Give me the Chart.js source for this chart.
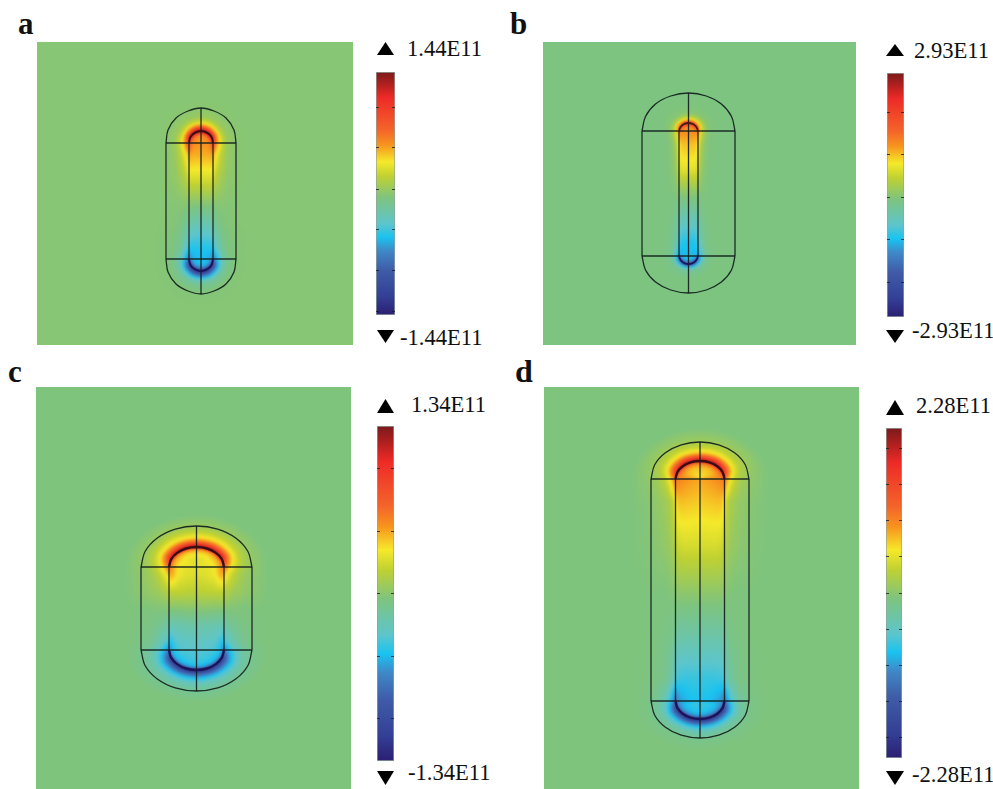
<!DOCTYPE html>
<html>
<head>
<meta charset="utf-8">
<title>Field maps</title>
<script src="https://cdn.jsdelivr.net/npm/chart.js@4"></script>
<style>
  html, body { margin: 0; padding: 0; background: #fff; }
  #page { position: relative; width: 993px; height: 789px; overflow: hidden; }
  canvas { position: absolute; }
  .txt { position: absolute; font-family: "Liberation Serif", serif; line-height: 1; white-space: nowrap; color: #111; }
  .tri { position: absolute; background: #000; }
</style>
</head>
<body>
<div id="page"></div>
<script>
// colour scale, percent of full range
const scaleStops = [-100, -85, -63, -47, -36, -25, -3, 14, 26, 40, 52, 79, 90, 100];
const scaleColors = ['#2b1f72', '#333f95', '#3f5ca8', '#3f89c8', '#19c3f0', '#5cc5cc', '#7fc47d',
  '#bfd132', '#f5e92a', '#f7941e', '#f4652a', '#ed2a27', '#b0201f', '#7b1a1a'];

// colour bar ranges and tick values (E11)
const rangeA = 1.44, rangeB = 2.93, rangeC = 1.34, rangeD = 2.28;
const barTicksA = [1.02, 0.54, 0.05, -0.43, -0.91, -1.4];
const barTicksB = [1.99, 0.97, -0.06, -1.07, -2.09];
const barTicksC = [1, 0.5, 0, -0.5, -1];
const barTicksD = [2, 1.5, 1, 0.5, 0, -0.5, -1, -1.5, -2];

// rows of every field table: 0-1 top cap, 1-2 along the rod, 2-3 bottom cap
const stations = [0, 0.35, 0.7, 1, 1.1, 1.3, 1.5, 1.7, 1.9, 2, 2.3, 2.65, 3];

// columns: distance from the rod surface, negative is inside
const depthA = [-12, -8, -4, -1.5, 0, 2, 5, 9, 14, 22, 34];
const fieldA = [
  [38, 40, 46, 80, 100, 78, 46, 18, 4, 0, -1],
  [38, 40, 46, 78, 98, 76, 45, 18, 4, 0, -1],
  [40, 40, 46, 72, 92, 72, 42, 16, 4, 0, -1],
  [41, 41, 42, 56, 72, 52, 34, 17, 5, 0, -1],
  [36, 36, 36, 38, 38, 30, 21, 12, 4, 0, -1],
  [20, 20, 20, 20, 20, 14, 10, 6, 2, 0, -1],
  [1, 1, 1, 1, 1, 0, 0, 0, -1, -1, -1],
  [-18, -18, -17, -15, -14, -10, -7, -4, -2, -1, -1],
  [-34, -34, -34, -34, -33, -26, -18, -10, -5, -2, -1],
  [-38, -38, -40, -46, -56, -46, -32, -18, -8, -2, -1],
  [-36, -36, -40, -60, -86, -70, -48, -22, -9, -2, -1],
  [-35, -36, -42, -68, -92, -76, -50, -22, -9, -2, -1],
  [-35, -36, -45, -70, -96, -78, -50, -20, -8, -2, -1]
];

const depthB = [-9.5, -6, -3, -1, 0, 2, 4, 7, 11, 18, 30];
const fieldB = [
  [38, 40, 46, 70, 86, 50, 28, 9, -1, -3, -4],
  [38, 40, 46, 68, 84, 48, 28, 9, -1, -3, -4],
  [40, 40, 44, 60, 74, 42, 24, 8, -1, -3, -4],
  [42, 42, 42, 44, 46, 28, 15, 4, -2, -4, -4],
  [33, 33, 32, 30, 28, 14, 6, 0, -3, -4, -4],
  [22, 22, 22, 20, 18, 8, 2, -1, -3, -4, -4],
  [0, 0, 0, -1, -1, -2, -3, -3, -4, -4, -4],
  [-18, -18, -18, -16, -14, -10, -8, -6, -4, -4, -4],
  [-35, -35, -34, -32, -30, -20, -13, -8, -5, -4, -4],
  [-38, -38, -38, -40, -42, -34, -23, -11, -6, -4, -4],
  [-36, -36, -40, -58, -72, -46, -28, -13, -6, -4, -4],
  [-36, -36, -42, -64, -84, -50, -28, -12, -6, -4, -4],
  [-36, -36, -42, -66, -86, -50, -28, -12, -6, -4, -4]
];

const depthC = [-27, -18, -10, -4, -1.5, 0, 2, 6, 11, 18, 28, 44];
const fieldC = [
  [20, 22, 26, 38, 70, 100, 86, 58, 33, 18, 4, -3],
  [21, 22, 26, 38, 70, 98, 84, 56, 32, 17, 4, -3],
  [23, 24, 28, 38, 65, 92, 78, 50, 28, 14, 3, -3],
  [22, 22, 25, 38, 44, 52, 42, 28, 18, 9, 2, -3],
  [20, 21, 24, 34, 36, 32, 26, 19, 12, 6, 1, -3],
  [13, 13, 14, 14, 14, 13, 10, 8, 5, 3, 0, -3],
  [0, 0, -1, -1, -1, -1, -2, -2, -2, -3, -3, -3],
  [-15, -15, -16, -17, -17, -15, -13, -10, -8, -5, -4, -3],
  [-22, -23, -24, -30, -36, -33, -27, -21, -15, -9, -5, -3],
  [-24, -25, -28, -36, -46, -52, -44, -33, -23, -13, -7, -3],
  [-28, -28, -32, -40, -60, -90, -76, -52, -34, -18, -9, -3],
  [-28, -28, -32, -42, -70, -98, -84, -58, -35, -19, -9, -3],
  [-28, -28, -32, -42, -72, -100, -85, -58, -37, -21, -10, -3]
];

const depthD = [-24, -16, -9, -4, -1.5, 0, 2, 6, 11, 18, 28, 44];
const fieldD = [
  [27, 29, 33, 44, 70, 100, 84, 58, 32, 16, 4, -3],
  [27, 29, 33, 44, 70, 100, 84, 58, 32, 16, 4, -3],
  [31, 32, 36, 46, 66, 90, 74, 48, 26, 12, 3, -3],
  [37, 39, 41, 44, 46, 52, 40, 25, 14, 6, 1, -3],
  [31, 32, 33, 33, 31, 26, 16, 9, 5, 2, -1, -3],
  [19, 19, 19, 18, 16, 12, 8, 4, 2, 0, -2, -3],
  [2, 2, 2, 2, 1, 0, -1, -2, -3, -3, -3, -3],
  [-14, -14, -14, -14, -13, -11, -8, -6, -5, -4, -3, -3],
  [-31, -31, -31, -30, -30, -26, -19, -12, -8, -5, -4, -3],
  [-36, -36, -40, -44, -50, -58, -46, -30, -18, -10, -5, -3],
  [-32, -32, -36, -44, -60, -90, -76, -50, -29, -14, -6, -3],
  [-32, -32, -36, -46, -70, -98, -84, -55, -31, -15, -6, -3],
  [-32, -32, -36, -46, -72, -100, -86, -57, -33, -17, -7, -3]
];

// outlines: top cap, then bottom cap
const outerA = [[166,143],[168,130],[176,118],[188,111],[201,108],[214,111],[226,118],[234,130],[236,143],
  [236,259],[234,272],[226,284],[214,291],[201,294],[188,291],[176,284],[168,272],[166,259]];
const innerA = [[189,143],[190,138],[192.5,134.5],[196.5,132],[201,131],[205.5,132],[209.5,134.5],[212,138],[213,143],
  [213,259],[212,264],[209.5,267.5],[205.5,270],[201,271],[196.5,270],[192.5,267.5],[190,264],[189,259]];
const outerB = [[642,131],[645.5,116.5],[655.5,104],[670.7,96],[688.5,93],[706.3,96],[721.4,104],[731.5,116.5],[735,131],
  [735,256],[731.5,270],[721.4,282],[706.3,290],[688.5,293],[670.7,290],[655.5,282],[645.5,270],[642,256]];
const innerB = [[679,132],[679.7,128.6],[681.8,125.6],[684.9,123.7],[688.5,123],[692.1,123.7],[695.2,125.6],[697.3,128.6],[698,132],
  [698,255],[697.3,258.4],[695.2,261.4],[692.1,263.3],[688.5,264],[684.9,263.3],[681.8,261.4],[679.7,258.4],[679,255]];
const outerC = [[141,567],[145.2,551.3],[157.3,538],[175.3,529.1],[196.5,526],[217.7,529.1],[235.7,538],[247.8,551.3],[252,567],
  [252,650],[247.8,665.7],[235.7,679],[217.7,687.9],[196.5,691],[175.3,687.9],[157.3,679],[145.2,665.7],[141,650]];
const innerC = [[169,567],[171.1,559.3],[177.1,552.9],[186,548.5],[196.5,547],[207,548.5],[215.9,552.9],[221.9,559.3],[224,567],
  [224,650],[221.9,657.7],[215.9,664.1],[207,668.5],[196.5,670],[186,668.5],[177.1,664.1],[171.1,657.7],[169,650]];
const outerD = [[651,479],[654.7,464.8],[665.4,452.8],[681.2,444.8],[700,442],[718.8,444.8],[734.6,452.8],[745.3,464.8],[749,479],
  [749,701],[745.3,715.2],[734.6,727.2],[718.8,735.2],[700,738],[681.2,735.2],[665.4,727.2],[654.7,715.2],[651,701]];
const innerD = [[675.5,479],[677.4,472.1],[682.7,466.3],[690.6,462.4],[700,461],[709.4,462.4],[717.3,466.3],[722.6,472.1],[724.5,479],
  [724.5,701],[722.6,707.9],[717.3,713.7],[709.4,717.6],[700,719],[690.6,717.6],[682.7,713.7],[677.4,707.9],[675.5,701]];

const page = document.getElementById('page');

function hexToRgb(hex) {
  return [1, 3, 5].map(i => parseInt(hex.substr(i, 2), 16));
}
const scaleRgb = scaleColors.map(hexToRgb);

function colorFor(v) {
  if (v <= scaleStops[0]) return scaleRgb[0];
  for (let i = 1; i < scaleStops.length; i++) {
    if (v <= scaleStops[i]) {
      const t = (v - scaleStops[i - 1]) / (scaleStops[i] - scaleStops[i - 1]);
      return scaleRgb[i].map((c, k) => scaleRgb[i - 1][k] + (c - scaleRgb[i - 1][k]) * t);
    }
  }
  return scaleRgb[scaleRgb.length - 1];
}

// index and fraction of a value inside a sorted list
function locate(list, v) {
  if (v <= list[0]) return [0, 0];
  for (let i = 1; i < list.length; i++) {
    if (v <= list[i]) return [i - 1, (v - list[i - 1]) / (list[i] - list[i - 1])];
  }
  return [list.length - 2, 1];
}

// look a data position up in the panel's table, in rod coordinates
function fieldAt(p, x, y) {
  const dx = Math.abs(x - p.axis);
  let u, d;
  if (y < p.capTop) {
    const ny = (p.capTop - y) * p.rx / p.ryTop;
    d = Math.hypot(dx, ny) - p.rx;
    u = Math.atan2(dx, ny) / (Math.PI / 2);
  } else if (y > p.capBottom) {
    const ny = (y - p.capBottom) * p.rx / p.ryBottom;
    d = Math.hypot(dx, ny) - p.rx;
    u = 3 - Math.atan2(dx, ny) / (Math.PI / 2);
  } else {
    d = dx - p.rx;
    u = 1 + (y - p.capTop) / (p.capBottom - p.capTop);
  }
  const [r, rt] = locate(stations, u);
  const [c, ct] = locate(p.depth, d);
  const top = p.field[r][c] * (1 - ct) + p.field[r][c + 1] * ct;
  const bottom = p.field[r + 1][c] * (1 - ct) + p.field[r + 1][c + 1] * ct;
  return top * (1 - rt) + bottom * rt;
}

const fieldLayer = {
  id: 'fieldLayer',
  beforeDatasetsDraw(chart, args, opts) {
    const { ctx, chartArea: area, scales } = chart;
    const w = Math.round(area.right - area.left), h = Math.round(area.bottom - area.top);
    const off = document.createElement('canvas');
    off.width = w;
    off.height = h;
    const octx = off.getContext('2d');
    const img = octx.createImageData(w, h);
    for (let j = 0; j < h; j++) {
      const y = scales.y.getValueForPixel(area.top + j + 0.5);
      for (let i = 0; i < w; i++) {
        const x = scales.x.getValueForPixel(area.left + i + 0.5);
        const rgb = colorFor(fieldAt(opts.panel, x, y));
        const k = (j * w + i) * 4;
        img.data[k] = rgb[0];
        img.data[k + 1] = rgb[1];
        img.data[k + 2] = rgb[2];
        img.data[k + 3] = 255;
      }
    }
    octx.putImageData(img, 0, 0);
    ctx.save();
    ctx.drawImage(off, area.left, area.top, area.right - area.left, area.bottom - area.top);
    ctx.beginPath();
    ctx.rect(area.left, area.top, area.right - area.left, area.bottom - area.top);
    ctx.clip();
    ctx.filter = 'blur(0.8px)';
    ctx.drawImage(off, area.left, area.top, area.right - area.left, area.bottom - area.top);
    ctx.restore();
  }
};

function lineSet(pairs, color, width, tension) {
  return {
    data: pairs.map(([x, y]) => ({ x, y })),
    showLine: true,
    borderColor: color,
    borderWidth: width,
    pointRadius: 0,
    tension
  };
}

function addCanvas(left, top, width, height) {
  const c = document.createElement('canvas');
  c.width = width;
  c.height = height;
  c.style.left = left + 'px';
  c.style.top = top + 'px';
  c.style.width = width + 'px';
  c.style.height = height + 'px';
  page.appendChild(c);
  return c;
}

function drawPanel(p) {
  const edge = 'rgba(18,30,28,0.92)';
  const canvas = addCanvas(p.left, p.top, p.right - p.left, p.bottom - p.top);
  new Chart(canvas, {
    type: 'scatter',
    data: {
      datasets: [
        lineSet(p.outer.slice(0, 9), edge, 1.3, 0.35),
        lineSet(p.outer.slice(9, 18), edge, 1.3, 0.35),
        lineSet([p.outer[8], p.outer[9]], edge, 1.3, 0),
        lineSet([p.outer[17], p.outer[0]], edge, 1.3, 0),
        lineSet([p.inner[8], p.inner[9]], edge, 1.3, 0),
        lineSet([p.inner[17], p.inner[0]], edge, 1.3, 0),
        lineSet(p.inner.slice(0, 9), p.tipTop, p.tipWidth, 0.35),
        lineSet(p.inner.slice(9, 18), p.tipBottom, p.tipWidth, 0.35),
        lineSet([p.outer[0], p.outer[8]], edge, 1.5, 0),
        lineSet([p.outer[9], p.outer[17]], edge, 1.5, 0),
        lineSet([p.outer[4], p.outer[13]], edge, 1.3, 0)
      ]
    },
    options: {
      responsive: false,
      animation: false,
      layout: { padding: 0 },
      scales: {
        x: { display: false, min: p.left, max: p.right },
        y: { display: false, min: p.top, max: p.bottom, reverse: true }
      },
      plugins: { legend: { display: false }, tooltip: { enabled: false }, fieldLayer: { panel: p } }
    },
    plugins: [fieldLayer]
  });
}

function drawBar(b) {
  const canvas = addCanvas(b.left, b.top, b.right - b.left, b.bottom - b.top);
  new Chart(canvas, {
    type: 'bar',
    data: {
      labels: [''],
      datasets: [{
        data: [[-b.range, b.range]],
        barPercentage: 1,
        categoryPercentage: 1,
        borderWidth: 1,
        borderSkipped: false,
        borderColor: 'rgba(120,140,130,0.8)',
        backgroundColor: ctx => {
          const area = ctx.chart.chartArea;
          if (!area) return '#888';
          const g = ctx.chart.ctx.createLinearGradient(0, area.bottom, 0, area.top);
          scaleStops.forEach((s, i) => g.addColorStop((s + 100) / 200, scaleColors[i]));
          return g;
        }
      }]
    },
    options: {
      responsive: false,
      animation: false,
      layout: { padding: 0 },
      scales: {
        x: { display: false },
        y: {
          min: -b.range,
          max: b.range,
          afterBuildTicks: axis => { axis.ticks = b.ticks.map(value => ({ value })); },
          ticks: { display: false },
          border: { display: false, dash: [3, b.right - b.left - 6, 3] },
          grid: { color: 'rgba(20,30,40,0.8)', drawTicks: false, z: 1 }
        }
      },
      plugins: { legend: { display: false }, tooltip: { enabled: false } }
    }
  });
}

// baseline is given, the box top follows from Liberation Serif metrics
function addText(text, left, baseline, size, weight) {
  const el = document.createElement('div');
  el.className = 'txt';
  el.textContent = text;
  el.style.left = left + 'px';
  el.style.top = (baseline - 0.8375 * size) + 'px';
  el.style.fontSize = size + 'px';
  if (weight) el.style.fontWeight = weight;
  page.appendChild(el);
}

function addTriangle(left, top, width, height, up) {
  const el = document.createElement('div');
  el.className = 'tri';
  el.style.left = left + 'px';
  el.style.top = top + 'px';
  el.style.width = width + 'px';
  el.style.height = height + 'px';
  el.style.clipPath = up ? 'polygon(50% 0, 100% 100%, 0 100%)' : 'polygon(0 0, 100% 0, 50% 100%)';
  page.appendChild(el);
}

drawPanel({ left: 37, right: 353, top: 42, bottom: 345, axis: 201, rx: 12, ryTop: 12, ryBottom: 12, capTop: 143, capBottom: 259,
  depth: depthA, field: fieldA, outer: outerA, inner: innerA, tipTop: '#3a0d14', tipBottom: '#1c1458', tipWidth: 2 });
drawPanel({ left: 543, right: 856, top: 42, bottom: 345, axis: 688.5, rx: 9.5, ryTop: 9, ryBottom: 9, capTop: 132, capBottom: 255,
  depth: depthB, field: fieldB, outer: outerB, inner: innerB, tipTop: '#4a1a14', tipBottom: '#1c1458', tipWidth: 1.8 });
drawPanel({ left: 36, right: 351, top: 387, bottom: 789, axis: 196.5, rx: 27.5, ryTop: 20, ryBottom: 20, capTop: 567, capBottom: 650,
  depth: depthC, field: fieldC, outer: outerC, inner: innerC, tipTop: '#3a0d14', tipBottom: '#1c1458', tipWidth: 2.4 });
drawPanel({ left: 544, right: 859, top: 387, bottom: 789, axis: 700, rx: 24.5, ryTop: 18, ryBottom: 18, capTop: 479, capBottom: 701,
  depth: depthD, field: fieldD, outer: outerD, inner: innerD, tipTop: '#3a0d14', tipBottom: '#1c1458', tipWidth: 2.4 });

drawBar({ left: 376, right: 395, top: 72, bottom: 315, range: rangeA, ticks: barTicksA });
drawBar({ left: 887, right: 904, top: 73, bottom: 317, range: rangeB, ticks: barTicksB });
drawBar({ left: 377, right: 394, top: 426, bottom: 761, range: rangeC, ticks: barTicksC });
drawBar({ left: 886, right: 902, top: 428, bottom: 758, range: rangeD, ticks: barTicksD });

addTriangle(377, 42, 17, 13, true);
addTriangle(377, 330, 17, 13, false);
addTriangle(886, 44, 18, 12, true);
addTriangle(886, 330, 18, 13, false);
addTriangle(377, 399, 17, 14, true);
addTriangle(377, 771, 17, 14, false);
addTriangle(886, 400, 18, 15, true);
addTriangle(886, 771, 18, 14, false);

addText('1.44E11', 407, 57, 22.6);
addText('-1.44E11', 400, 346, 22.6);
addText('2.93E11', 914, 59, 22.6);
addText('-2.93E11', 912, 339, 22.6);
addText('1.34E11', 411, 413, 22.6);
addText('-1.34E11', 408, 781, 22.6);
addText('2.28E11', 916, 414, 22.6);
addText('-2.28E11', 912, 783, 22.6);

addText('a', 18, 34, 31, 'bold');
addText('b', 510, 34, 31, 'bold');
addText('c', 8, 382, 31, 'bold');
addText('d', 515, 382, 32, 'bold');
</script>
</body>
</html>
